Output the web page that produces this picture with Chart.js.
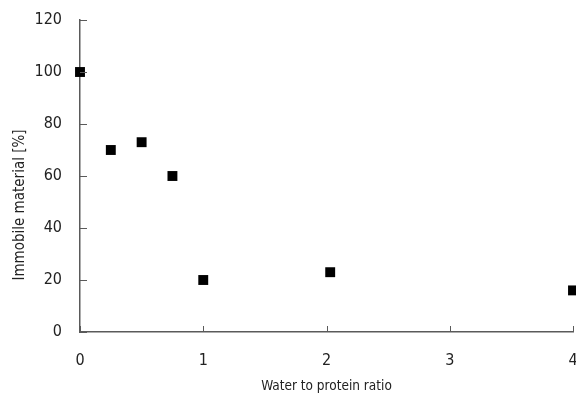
<!DOCTYPE html>
<html>
<head>
<meta charset="utf-8">
<script src="https://cdn.jsdelivr.net/npm/chart.js@4/dist/chart.umd.min.js"></script>
<style>
  html, body { margin: 0; padding: 0; background: #fff; }
  #wrap { width: 576px; height: 394px; position: relative; }
</style>
</head>
<body>
<div id="wrap"><canvas id="myChart"></canvas></div>
<script>
// water to protein ratio vs immobile material
const ratios = [0, 0.25, 0.5, 0.75, 1, 2.03, 4];
const immobile = [100, 70, 73, 60, 20, 23, 16];
const xTicks = [0, 1, 2, 3, 4];
const yTicks = [0, 20, 40, 60, 80, 100, 120];
const xTitle = 'Water to protein ratio';
const yTitle = 'Immobile material [%]';

const fontFamily = "'DejaVu Sans Condensed', 'Liberation Sans Narrow', 'Arial Narrow', sans-serif";
const axisColor = '#5a5a5a';

// tick marks drawn on the inside of the axes, plus axis titles
const innerTicks = {
  id: 'innerTicks',
  afterDraw(chart) {
    const ctx = chart.ctx;
    const xs = chart.scales.x, ys = chart.scales.y;
    const area = chart.chartArea;
    ctx.save();
    ctx.strokeStyle = axisColor;
    ctx.lineWidth = 1;
    ctx.beginPath();
    xTicks.forEach(function(v) {
      const px = Math.round(xs.getPixelForValue(v)) + 0.5;
      ctx.moveTo(px, area.bottom);
      ctx.lineTo(px, area.bottom - 6);
    });
    yTicks.forEach(function(v) {
      const py = Math.round(ys.getPixelForValue(v)) + 0.5;
      ctx.moveTo(area.left, py);
      ctx.lineTo(area.left + 7, py);
    });
    ctx.stroke();

    ctx.fillStyle = '#222';
    ctx.textAlign = 'center';
    ctx.textBaseline = 'middle';
    ctx.font = '13.5px ' + fontFamily;
    ctx.fillText(xTitle, (area.left + area.right) / 2, 386);
    ctx.font = '15px ' + fontFamily;
    ctx.translate(20, 205);
    ctx.rotate(-Math.PI / 2);
    ctx.fillText(yTitle, 0, 0);
    ctx.restore();
  }
};

const ctx = document.getElementById('myChart').getContext('2d');
new Chart(ctx, {
  type: 'scatter',
  data: {
    datasets: [{
      label: 'Immobile material',
      data: ratios.map(function(r, i) { return { x: r, y: immobile[i] }; }),
      pointStyle: 'rect',
      pointRadius: 7,
      pointHoverRadius: 7,
      backgroundColor: '#000',
      borderColor: '#000',
      borderWidth: 0,
      clip: false
    }]
  },
  options: {
    responsive: true,
    maintainAspectRatio: false,
    animation: false,
    layout: { autoPadding: false, padding: { top: 20, right: 3, left: 0, bottom: 0 } },
    plugins: {
      legend: { display: false },
      tooltip: { enabled: false }
    },
    scales: {
      x: {
        type: 'linear',
        min: 0,
        max: 4,
        afterFit: function(scale) {
          scale.height = 62;
          scale.paddingLeft = 0;
          scale.paddingRight = 0;
        },
        afterBuildTicks: function(scale) { scale.ticks = xTicks.map(function(v) { return { value: v }; }); },
        grid: { drawOnChartArea: false, drawTicks: false, color: 'rgba(0,0,0,0)' },
        border: { display: true, color: axisColor, width: 1.5 },
        ticks: { padding: 19, color: '#222', font: { family: fontFamily, size: 16 } }
      },
      y: {
        min: 0,
        max: 120,
        afterFit: function(scale) {
          scale.width = 80;
          scale.paddingTop = 0;
          scale.paddingBottom = 0;
        },
        afterBuildTicks: function(scale) { scale.ticks = yTicks.map(function(v) { return { value: v }; }); },
        grid: { drawOnChartArea: false, drawTicks: false, color: 'rgba(0,0,0,0)' },
        border: { display: true, color: axisColor, width: 1.5 },
        ticks: { padding: 18, color: '#222', font: { family: fontFamily, size: 16 } }
      }
    }
  },
  plugins: [innerTicks]
});
</script>
</body>
</html>
